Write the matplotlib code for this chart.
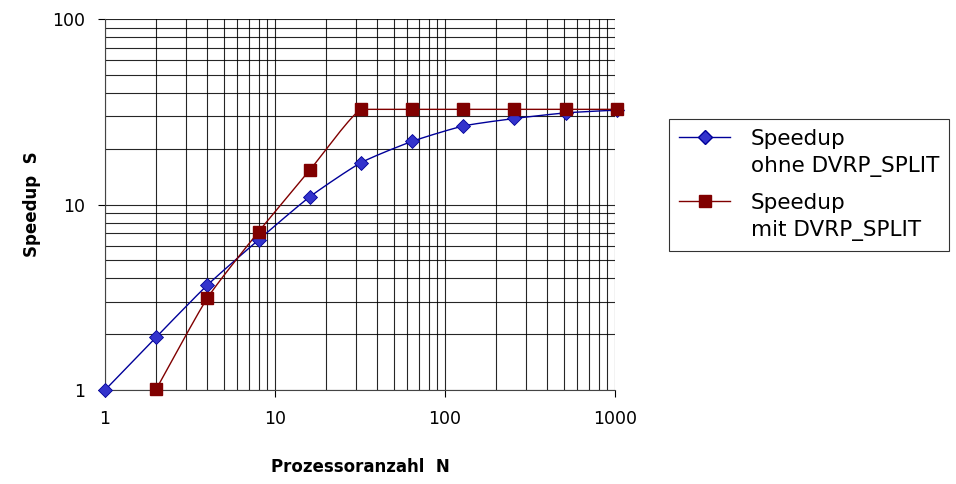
import numpy as np
import matplotlib
matplotlib.use("Agg")
import matplotlib.pyplot as plt
from matplotlib.ticker import FixedLocator, FixedFormatter, NullFormatter
from matplotlib.legend_handler import HandlerLine2D

# Daten
prozessoren = [1, 2, 4, 8, 16, 32, 64, 128, 256, 512, 1024]
speedup_ohne = [1.0, 1.93, 3.68, 6.45, 11.0, 16.8, 21.9, 26.5, 29.1, 31.2, 32.3]
prozessoren_mit = [2, 4, 8, 16, 32, 64, 128, 256, 512, 1024]
speedup_mit = [1.01, 3.13, 7.13, 15.3, 32.6, 32.6, 32.6, 32.6, 32.6, 32.6]

label_ohne = "Speedup\nohne DVRP_SPLIT"
label_mit = "Speedup\nmit DVRP_SPLIT"
x_ticks = [1, 10, 100, 1000]
y_ticks = [1, 10, 100]


# geglaettete Linie (aehnlich Excel) im log-log-Raum, Catmull-Rom mit Spannung,
# pro Abschnitt auf die Endpunkte begrenzt (kein Ueberschwingen)
def glatt(x, y, n=25, spannung=0.6):
    lx, ly = np.log10(x), np.log10(y)
    px = np.concatenate([[2 * lx[0] - lx[1]], lx, [2 * lx[-1] - lx[-2]]])
    py = np.concatenate([[2 * ly[0] - ly[1]], ly, [2 * ly[-1] - ly[-2]]])
    t = np.linspace(0, 1, n)
    h00 = 2 * t**3 - 3 * t**2 + 1
    h10 = t**3 - 2 * t**2 + t
    h01 = -2 * t**3 + 3 * t**2
    h11 = t**3 - t**2
    xs, ys = [], []
    for i in range(1, len(px) - 2):
        seg = []
        for p in (px, py):
            m1 = spannung * (p[i + 1] - p[i - 1]) / 2
            m2 = spannung * (p[i + 2] - p[i]) / 2
            seg.append(h00 * p[i] + h10 * m1 + h01 * p[i + 1] + h11 * m2)
        lo, hi = sorted([py[i], py[i + 1]])
        xs.extend(seg[0])
        ys.extend(np.clip(seg[1], lo, hi))
    return 10 ** np.array(xs), 10 ** np.array(ys)


# Legenden-Symbol auf Hoehe der ersten Textzeile
class ObenHandler(HandlerLine2D):
    def create_artists(self, legend, orig_handle, xdescent, ydescent,
                       width, height, fontsize, trans):
        return super().create_artists(legend, orig_handle, xdescent,
                                      ydescent - 24, width, height,
                                      fontsize, trans)


fig = plt.figure(figsize=(9.56, 4.84), dpi=100)
ax = fig.add_axes([0.1098, 0.194, 0.5335, 0.7667])

blau = "#000099"
rot = "#800000"

gx, gy = glatt(prozessoren, speedup_ohne)
ax.plot(gx, gy, color=blau, lw=1, clip_on=False, zorder=3)
ax.plot(prozessoren, speedup_ohne, ls="none", marker="D", ms=7.5,
        mfc="#3333cc", mec=blau, mew=0.6, clip_on=False, zorder=4)
gx, gy = glatt(prozessoren_mit, speedup_mit)
ax.plot(gx, gy, color=rot, lw=1, clip_on=False, zorder=3)
ax.plot(prozessoren_mit, speedup_mit, ls="none", marker="s", ms=9,
        mfc=rot, mec=rot, clip_on=False, zorder=4)

# Legenden-Eintraege
h1, = ax.plot([], [], color=blau, lw=1, marker="D", ms=7.5, mfc="#3333cc",
              mec=blau, label=label_ohne)
h2, = ax.plot([], [], color=rot, lw=1, marker="s", ms=9, mfc=rot, mec=rot,
              label=label_mit)

ax.set_xscale("log")
ax.set_yscale("log")
ax.set_xlim(1, 1000)
ax.set_ylim(1, 100)

ax.xaxis.set_major_locator(FixedLocator(x_ticks))
ax.xaxis.set_major_formatter(FixedFormatter([str(v) for v in x_ticks]))
ax.yaxis.set_major_locator(FixedLocator(y_ticks))
ax.yaxis.set_major_formatter(FixedFormatter([str(v) for v in y_ticks]))
ax.xaxis.set_minor_formatter(NullFormatter())
ax.yaxis.set_minor_formatter(NullFormatter())

ax.grid(True, which="both", color="black", lw=0.8, alpha=0.85)
ax.set_axisbelow(True)
ax.tick_params(which="major", direction="out", length=5, width=0.8,
               labelsize=12.5, colors="black", pad=9)
ax.tick_params(which="minor", length=0)
for s in ["top", "right"]:
    ax.spines[s].set_visible(False)
for s in ["left", "bottom"]:
    ax.spines[s].set_color("#444444")

ax.set_xlabel("Prozessoranzahl  N", fontsize=12, fontweight="bold", labelpad=22)
ax.set_ylabel("Speedup  S", fontsize=12, fontweight="bold", labelpad=8)

leg = fig.legend(handles=[h1, h2], loc="upper left",
                 bbox_to_anchor=(0.6998, 0.754),
                 fontsize=15.5, frameon=True, fancybox=False, edgecolor="black",
                 handlelength=2.4, handletextpad=0.95, borderpad=0.45,
                 labelspacing=0.75, borderaxespad=0,
                 handler_map={h1: ObenHandler(), h2: ObenHandler()})
leg.get_frame().set_linewidth(0.8)
for txt in leg.get_texts():
    txt.set_linespacing(1.45)

fig.savefig("out.png", dpi=100)
